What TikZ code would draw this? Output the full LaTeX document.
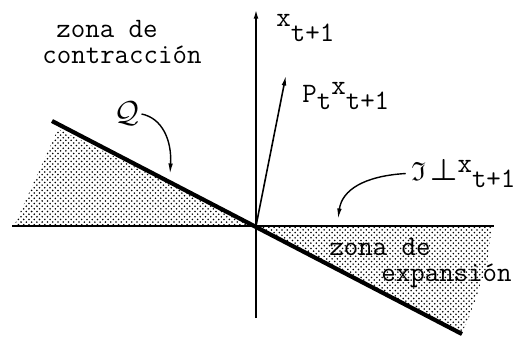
\documentclass[tikz,border=0pt]{standalone}
\usepackage{amsmath,amssymb}
\usepackage{fontspec}
\usetikzlibrary{arrows.meta, patterns}

% raised / lowered pieces of the typed labels
\newcommand{\hi}[1]{\raisebox{4.5pt}{#1}}
\newcommand{\lo}[1]{\raisebox{-4.5pt}{#1}}

\begin{document}
\begin{tikzpicture}[
  x=0.02cm, y=-0.02cm,
  >={Latex[length=6pt,width=2.6pt]},
  lbl/.style={inner sep=0pt, anchor=base west, font=\fontsize{16}{19}\selectfont\ttfamily},
  axis/.style={line width=1.1pt},
  bound/.style={line width=2.4pt},
  pointer/.style={->, line width=0.8pt},
  zone/.style={pattern=crosshatch dots, pattern color=black}
]
\useasboundingbox (0,0) rectangle (519,338);

% --- Points ---
\coordinate (O)  at (256,226);
\coordinate (xl) at (12,226);
\coordinate (xr) at (494,226);
\coordinate (yb) at (256,318);
\coordinate (yt) at (256,8);
\coordinate (qa) at (52,121);
\coordinate (qb) at (462,334);
\coordinate (p)  at (286,75);

% --- Shaded zones ---
\fill[zone] (14,226) -- (58,129) -- (O) -- cycle;
\fill[zone] (O) -- (492,227) -- (487,265) -- (472,310) -- (qb) -- cycle;

% --- Axes and lines ---
\draw[axis, ->] (yb) -- (yt);
\draw[line width=1.6pt] (xl) -- (xr);
\draw[bound] (qa) -- (qb);
\draw[line width=0.9pt, ->] (O) -- (p);

% --- Labels ---
\node[lbl] (xnew) at (276,34)  {\hi{x}\lo{t+1}};
\node[lbl] (proj) at (302,102) {P\lo{t}\hi{x}\lo{t+1}};
\node[lbl] (zc1)  at (56,37)   {zona de};
\node[lbl] (zc2)  at (42,63)   {contracción};
\node[lbl] (ze1)  at (329,255) {zona de};
\node[lbl] (ze2)  at (381,281) {expansión};
\node[inner sep=0pt, font=\fontsize{18}{20}\selectfont] (qlab) at (127,114) {$\mathcal{Q}$};
\node[lbl] (perp) at (411,180) {{\fontsize{15}{17}\selectfont$\mathfrak{I}$\,{\fontsize{18}{20}\selectfont$\boldsymbol{\perp}$}}\hi{x}\lo{t+1}};

% --- Pointers ---
\coordinate (qtip) at (170,174);
\coordinate (ptip) at (338,219);
\draw[pointer] ([xshift=1pt]qlab.east) .. controls (162,118) and (172,140) .. (qtip);
\draw[pointer] ([xshift=-3pt]perp.west) .. controls (364,176) and (342,190) .. (ptip);

\end{tikzpicture}
\end{document}
